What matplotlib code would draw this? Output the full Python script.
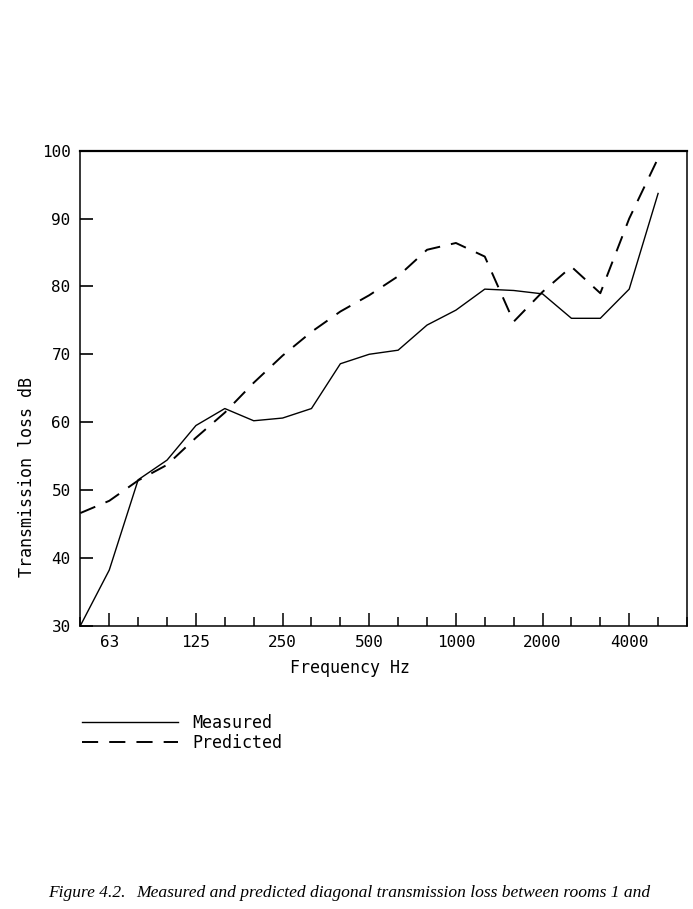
import matplotlib
matplotlib.use("Agg")
import matplotlib.pyplot as plt
from matplotlib.ticker import FixedLocator, NullFormatter

# one-third octave band centre frequencies (Hz) and readings from the plot
bands = [50, 63, 80, 100, 125, 160, 200, 250, 315, 400, 500, 630, 800,
         1000, 1250, 1600, 2000, 2500, 3150, 4000, 5000]
measured = [30.0, 38.2, 51.5, 54.4, 59.5, 62.0, 60.2, 60.6, 62.0, 68.6, 70.0,
            70.6, 74.3, 76.5, 79.6, 79.4, 78.9, 75.3, 75.3, 79.6, 93.7]
predicted = [46.6, 48.4, 51.4, 53.7, 57.7, 61.4, 65.8, 69.8, 73.3, 76.3, 78.7,
             81.5, 85.4, 86.4, 84.4, 74.8, 79.2, 82.9, 79.0, 90.0, 98.9]
all_bands = bands + [6300]
major_labels = ["63", "125", "250", "500", "1000", "2000", "4000"]
y_ticks = [30, 40, 50, 60, 70, 80, 90, 100]

mono = "DejaVu Sans Mono"
pos = list(range(len(bands)))

fig = plt.figure(figsize=(6.93, 9.09), dpi=100)
ax = fig.add_axes([0.116, 0.3117, 0.8753, 0.5225])

ax.plot(pos, measured, color="black", lw=1.0, label="Measured")
line_p, = ax.plot(pos, predicted, color="black", lw=1.4, label="Predicted")
line_p.set_dashes((8.3, 5.7))

ax.set_xlim(0, len(all_bands) - 1)
ax.set_ylim(30, 100)

major_pos = [all_bands.index(int(f)) for f in major_labels]
minor_pos = [i for i in range(len(all_bands)) if i not in major_pos]
ax.xaxis.set_major_locator(FixedLocator(major_pos))
ax.set_xticklabels(major_labels)
ax.xaxis.set_minor_locator(FixedLocator(minor_pos))
ax.xaxis.set_minor_formatter(NullFormatter())
ax.set_yticks(y_ticks)

ax.tick_params(axis="x", which="major", direction="in", length=9.5, width=1.1,
               pad=7, labelsize=11.5)
ax.tick_params(axis="x", which="minor", direction="in", length=6.5, width=1.1)
ax.tick_params(axis="y", which="major", direction="in", length=9, width=1.2,
               pad=7, labelsize=11.5)
for lab in ax.get_xticklabels() + ax.get_yticklabels():
    lab.set_family(mono)

for side, sp in ax.spines.items():
    sp.set_linewidth(1.1)
ax.spines["top"].set_linewidth(1.6)

ax.set_xlabel("Frequency Hz", family=mono, fontsize=12)
ax.xaxis.set_label_coords(0.445, -0.0695)
ax.set_ylabel("Transmission loss dB", family=mono, fontsize=12)
ax.yaxis.set_label_coords(-0.073, 0.314)

leg = ax.legend(loc="upper left", bbox_to_anchor=(82 / 693, 1 - 714 / 909),
                bbox_transform=fig.transFigure, frameon=False, borderpad=0,
                borderaxespad=0, handlelength=5.75, handletextpad=0.85,
                labelspacing=0.1, prop={"family": mono, "size": 12})

fig.text(48 / 693, 1 - 893 / 909, "Figure 4.2.", family="Liberation Serif",
         style="italic", fontsize=12.5, va="center")
fig.text(136 / 693, 1 - 893 / 909,
         "Measured and predicted diagonal transmission loss between rooms 1 and",
         family="Liberation Serif", style="italic", fontsize=12.6, va="center")

fig.savefig("out.png", dpi=100)
